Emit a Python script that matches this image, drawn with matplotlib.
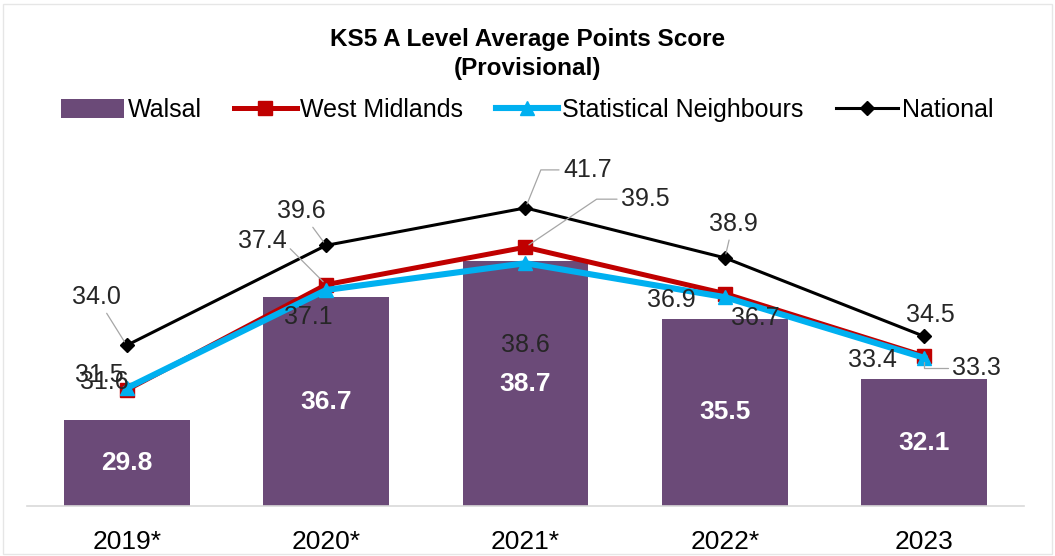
import numpy as np
import matplotlib.pyplot as plt
from matplotlib.patches import Rectangle

plt.rcParams['font.family'] = ['Liberation Sans', 'DejaVu Sans']

years = ['2019*', '2020*', '2021*', '2022*', '2023']
walsall = [29.8, 36.7, 38.7, 35.5, 32.1]
west_midlands = [31.5, 37.4, 39.5, 36.9, 33.4]
stat_neighbours = [31.6, 37.1, 38.6, 36.7, 33.3]
national = [34.0, 39.6, 41.7, 38.9, 34.5]

# label placement: (dx, dy) in pixels from the marker, leader style (None = no leader)
off_nat = [(-30, 48, 'arc3'), (-25, 34, 'arc3'), (62, 38, 'angle,angleA=0,angleB=68'),
           (8, 34, 'arc3'), (6, 21, None)]
off_wm = [(-27, 15, None), (-64, 44, 'angle,angleA=0,angleB=135'),
          (120, 48, 'angle,angleA=0,angleB=34'), (-54, -6, None), (-52, -4, None)]
off_sn = [(-22, 6, None), (-18, -27, None), (0, -82, None), (30, -21, None),
          (52, -10, 'angle,angleA=0,angleB=-90')]

purple = '#6B4A78'
red = '#C00000'
cyan = '#00B0F0'

fig = plt.figure(figsize=(10.55, 5.56), dpi=100)
ax = fig.add_axes([0.0256, 0.09, 0.945, 0.642])
x = np.arange(len(years))

ax.bar(x, walsall, width=0.63, color=purple, label='Walsal', zorder=1)
ax.plot(x, west_midlands, color=red, lw=3.6, marker='s', ms=10, label='West Midlands', zorder=3)
ax.plot(x, stat_neighbours, color=cyan, lw=4.4, marker='^', ms=10, label='Statistical Neighbours', zorder=4)
ax.plot(x, national, color='black', lw=2.2, marker='D', ms=7, label='National', zorder=5)

ax.set_ylim(25, 45)
ax.set_xlim(-0.5, 4.5)

for xi, v in zip(x, walsall):
    ax.text(xi, (25 + v) / 2, f'{v:.1f}', ha='center', va='center', color='white',
            fontsize=19, fontweight='bold', zorder=6)

def label_series(vals, offs):
    for xi, v, (dx, dy, conn) in zip(x, vals, offs):
        arrow = None
        if conn:
            arrow = dict(arrowstyle='-', color='#A6A6A6', lw=0.9, shrinkA=1, shrinkB=3,
                         connectionstyle=conn)
        ax.annotate(f'{v:.1f}', xy=(xi, v), xytext=(dx, dy), textcoords='offset pixels',
                    ha='center', va='center', fontsize=18, color='#262626', zorder=7,
                    arrowprops=arrow)

label_series(national, off_nat)
label_series(west_midlands, off_wm)
label_series(stat_neighbours, off_sn)

for s in ['top', 'right', 'left']:
    ax.spines[s].set_visible(False)
ax.spines['bottom'].set_color('#D9D9D9')
ax.spines['bottom'].set_linewidth(1.2)
ax.set_yticks([])
ax.set_xticks(x)
ax.set_xticklabels(years, fontsize=19)
ax.tick_params(axis='x', length=0, pad=17)

fig.text(0.5, 0.903, 'KS5 A Level Average Points Score\n(Provisional)', ha='center', va='center',
         fontsize=17.5, fontweight='bold', linespacing=1.3)

handles, labels = ax.get_legend_handles_labels()
order = [3, 0, 1, 2]
fig.legend([handles[i] for i in order], [labels[i] for i in order], loc='center',
           bbox_to_anchor=(0.5, 0.802), ncol=4, frameon=False, fontsize=18,
           handlelength=2.5, handleheight=0.8, columnspacing=1.3, handletextpad=0.15)

fig.patches.append(Rectangle((0.003, 0.003), 0.994, 0.99, transform=fig.transFigure,
                             fill=False, edgecolor='#E6E6E6', lw=1))

fig.savefig('out.png', dpi=100)
